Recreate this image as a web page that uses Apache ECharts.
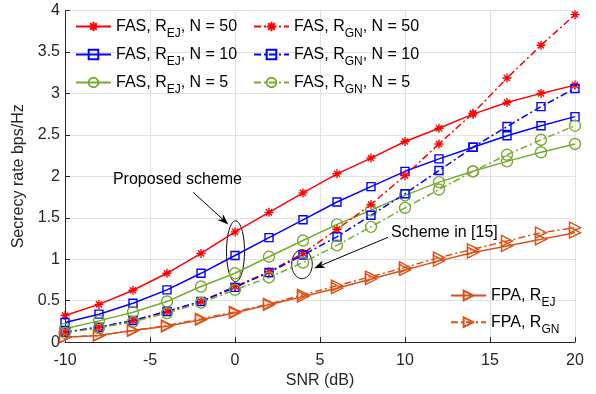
<!DOCTYPE html>
<html>
<head>
<meta charset="utf-8">
<script src="https://cdn.jsdelivr.net/npm/echarts@6/dist/echarts.min.js"></script>
<style>
html,body{margin:0;padding:0;background:#fff;}
#chart{width:596px;height:394px;}
</style>
</head>
<body>
<div id="chart"></div>
<script>
// ---- data ----
const snr = [-10, -8, -6, -4, -2, 0, 2, 4, 6, 8, 10, 12, 14, 16, 18, 20];
const fasEj50 = [0.32, 0.455, 0.625, 0.83, 1.07, 1.33, 1.565, 1.80, 2.03, 2.22, 2.42, 2.58, 2.75, 2.89, 3.00, 3.10];
const fasEj10 = [0.237, 0.337, 0.468, 0.63, 0.83, 1.045, 1.26, 1.475, 1.69, 1.875, 2.06, 2.21, 2.35, 2.49, 2.61, 2.72];
const fasEj5 = [0.16, 0.256, 0.36, 0.49, 0.67, 0.83, 1.03, 1.225, 1.42, 1.59, 1.77, 1.93, 2.06, 2.18, 2.29, 2.39];
const fasGn50 = [0.12, 0.18, 0.26, 0.37, 0.49, 0.67, 0.85, 1.07, 1.36, 1.66, 2.01, 2.39, 2.76, 3.185, 3.58, 3.95];
const fasGn10 = [0.12, 0.18, 0.26, 0.37, 0.49, 0.66, 0.84, 1.05, 1.27, 1.53, 1.79, 2.07, 2.35, 2.60, 2.84, 3.06];
const fasGn5 = [0.11, 0.17, 0.245, 0.35, 0.475, 0.63, 0.78, 0.96, 1.167, 1.39, 1.62, 1.84, 2.06, 2.26, 2.44, 2.61];
const fpaEj = [0.06, 0.08, 0.14, 0.19, 0.27, 0.355, 0.45, 0.55, 0.65, 0.76, 0.87, 0.98, 1.08, 1.16, 1.24, 1.32];
const fpaGn = [0.06, 0.08, 0.14, 0.20, 0.28, 0.365, 0.46, 0.57, 0.68, 0.79, 0.90, 1.02, 1.12, 1.22, 1.32, 1.38];

const xTicks = { min: -10, max: 20, interval: 5 };
const yTicks = { min: 0, max: 4, interval: 0.5 };

const xTitle = 'SNR (dB)';
const yTitle = 'Secrecy rate bps/Hz';

// legend labels: [prefix, subscript, suffix]
const labels = {
  'FAS EJ 50': ['FAS, R', 'EJ', ', N = 50'],
  'FAS EJ 10': ['FAS, R', 'EJ', ', N = 10'],
  'FAS EJ 5':  ['FAS, R', 'EJ', ', N = 5'],
  'FAS GN 50': ['FAS, R', 'GN', ', N = 50'],
  'FAS GN 10': ['FAS, R', 'GN', ', N = 10'],
  'FAS GN 5':  ['FAS, R', 'GN', ', N = 5'],
  'FPA EJ':    ['FPA, R', 'EJ', ''],
  'FPA GN':    ['FPA, R', 'GN', '']
};

// ---- styles ----
const FONT = 'Liberation Sans, Arial, Helvetica, sans-serif';
const RED = '#FF0000', BLUE = '#0000FF', GREEN = '#77AC30', ORANGE = '#D95319';
const STAR = 'path://M5,0L5,10M0,5L10,5M1.6,1.6L8.4,8.4M1.6,8.4L8.4,1.6';
const TRI = 'path://M0,0L10,5L0,10Z';
const DASHDOT = [7, 3, 2, 3];

function mk(name, data, color, symbol, size, dashed) {
  return {
    name: name,
    type: 'line',
    data: snr.map((x, i) => [x, data[i]]),
    symbol: symbol,
    symbolSize: size,
    showAllSymbol: true,
    lineStyle: { color: color, width: 1.5, type: dashed ? DASHDOT : 'solid' },
    itemStyle: { color: symbol === STAR ? color : 'rgba(0,0,0,0)', borderColor: color, borderWidth: 1.4 },
    emphasis: { disabled: true },
    animation: false
  };
}

const series = [
  mk('FAS EJ 50', fasEj50, RED, STAR, 9, false),
  mk('FAS EJ 10', fasEj10, BLUE, 'rect', 8, false),
  mk('FAS EJ 5', fasEj5, GREEN, 'circle', 11, false),
  mk('FAS GN 50', fasGn50, RED, STAR, 9, true),
  mk('FAS GN 10', fasGn10, BLUE, 'rect', 8, true),
  mk('FAS GN 5', fasGn5, GREEN, 'circle', 11, true),
  mk('FPA EJ', fpaEj, ORANGE, TRI, 11, false),
  mk('FPA GN', fpaGn, ORANGE, TRI, 11, true)
];

const rich = {
  n: { fontSize: 16, lineHeight: 16, fontFamily: FONT, color: '#000', verticalAlign: 'top' },
  s: { fontSize: 12, lineHeight: 12, fontFamily: FONT, color: '#000', padding: [9, 0, 3, 0], verticalAlign: 'top' }
};
function fmt(name) {
  const l = labels[name];
  return '{n|' + l[0] + '}{s|' + l[1] + '}' + (l[2] ? '{n|' + l[2] + '}' : '');
}
function legend(names, left, top, gap) {
  return {
    data: names,
    left: left, top: top, orient: 'vertical',
    itemWidth: 35, itemHeight: 12, itemGap: gap,
    padding: 0,
    selectedMode: false,
    formatter: fmt,
    textStyle: { rich: rich, fontFamily: FONT, fontSize: 16, color: '#000' },
    inactiveColor: '#000'
  };
}

const chart = echarts.init(document.getElementById('chart'), null, { renderer: 'canvas' });
chart.setOption({
  animation: false,
  backgroundColor: '#fff',
  grid: { left: 65, right: 21, top: 10.5, bottom: 51, containLabel: false },
  xAxis: {
    type: 'value', min: xTicks.min, max: xTicks.max, interval: xTicks.interval,
    name: xTitle, nameLocation: 'middle', nameGap: 30,
    nameTextStyle: { fontSize: 16, fontFamily: FONT, color: '#262626' },
    axisLine: { show: true, onZero: false, lineStyle: { color: '#262626', width: 1 } },
    axisTick: { show: true, inside: true, length: 5, lineStyle: { color: '#262626' } },
    axisLabel: { fontSize: 16, fontFamily: FONT, color: '#262626', margin: 10 },
    splitLine: { show: true, lineStyle: { color: '#e2e2e2', width: 1 } }
  },
  yAxis: {
    type: 'value', min: yTicks.min, max: yTicks.max, interval: yTicks.interval,
    name: yTitle, nameLocation: 'middle', nameGap: 26,
    nameTextStyle: { fontSize: 16, fontFamily: FONT, color: '#262626' },
    axisLine: { show: true, onZero: false, lineStyle: { color: '#262626', width: 1 } },
    axisTick: { show: true, inside: true, length: 5, lineStyle: { color: '#262626' } },
    axisLabel: { fontSize: 16, fontFamily: FONT, color: '#262626', margin: 5 },
    splitLine: { show: true, lineStyle: { color: '#e2e2e2', width: 1 } }
  },
  legend: [
    legend(['FAS EJ 50', 'FAS EJ 10', 'FAS EJ 5'], 75, 18.5, 4),
    legend(['FAS GN 50', 'FAS GN 10', 'FAS GN 5'], 253, 18.5, 4),
    legend(['FPA EJ', 'FPA GN'], 450, 287.5, 2.7)
  ],
  series: series
});

// ---- annotations (anchored in data coordinates) ----
function px(x, y) { return chart.convertToPixel({ gridIndex: 0 }, [x, y]); }
function ellipsePts(cx, cy, rx, ry) {
  const c = px(cx, cy), pts = [];
  for (let k = 0; k < 72; k++) {
    const a = k / 72 * Math.PI * 2;
    pts.push([c[0] + rx * Math.cos(a), c[1] + ry * Math.sin(a)]);
  }
  return pts;
}
function arrow(from, to) {
  const a = px(from[0], from[1]), b = px(to[0], to[1]);
  const dx = b[0] - a[0], dy = b[1] - a[1], L = Math.hypot(dx, dy);
  const ux = dx / L, uy = dy / L, hl = 11, hw = 4;
  const base = [b[0] - ux * hl, b[1] - uy * hl];
  const notch = [b[0] - ux * hl * 0.7, b[1] - uy * hl * 0.7];
  return [
    { type: 'line', shape: { x1: a[0], y1: a[1], x2: notch[0], y2: notch[1] }, style: { stroke: '#000', lineWidth: 1 } },
    { type: 'polygon', shape: { points: [b, [base[0] - uy * hw, base[1] + ux * hw], notch, [base[0] + uy * hw, base[1] - ux * hw]] }, style: { fill: '#000' } }
  ];
}
const t1 = px(-7.18, 1.96), t2 = px(9.18, 1.324);
chart.setOption({
  graphic: [
    { type: 'polygon', shape: { points: ellipsePts(0.03, 1.095, 9, 30.5) }, style: { fill: 'none', stroke: '#000', lineWidth: 1 } },
    { type: 'polygon', shape: { points: ellipsePts(3.94, 0.94, 10.3, 14.5) }, style: { fill: 'none', stroke: '#000', lineWidth: 1 } },
    ...arrow([-2.46, 1.807], [-0.39, 1.42]),
    ...arrow([9.0, 1.264], [4.65, 0.89]),
    { type: 'text', x: t1[0], y: t1[1], style: { text: 'Proposed scheme', font: '16px ' + FONT, fill: '#000', textVerticalAlign: 'middle', verticalAlign: 'middle' } },
    { type: 'text', x: t2[0], y: t2[1], style: { text: 'Scheme in [15]', font: '16px ' + FONT, fill: '#000', textVerticalAlign: 'middle', verticalAlign: 'middle' } }
  ]
});
</script>
</body>
</html>
